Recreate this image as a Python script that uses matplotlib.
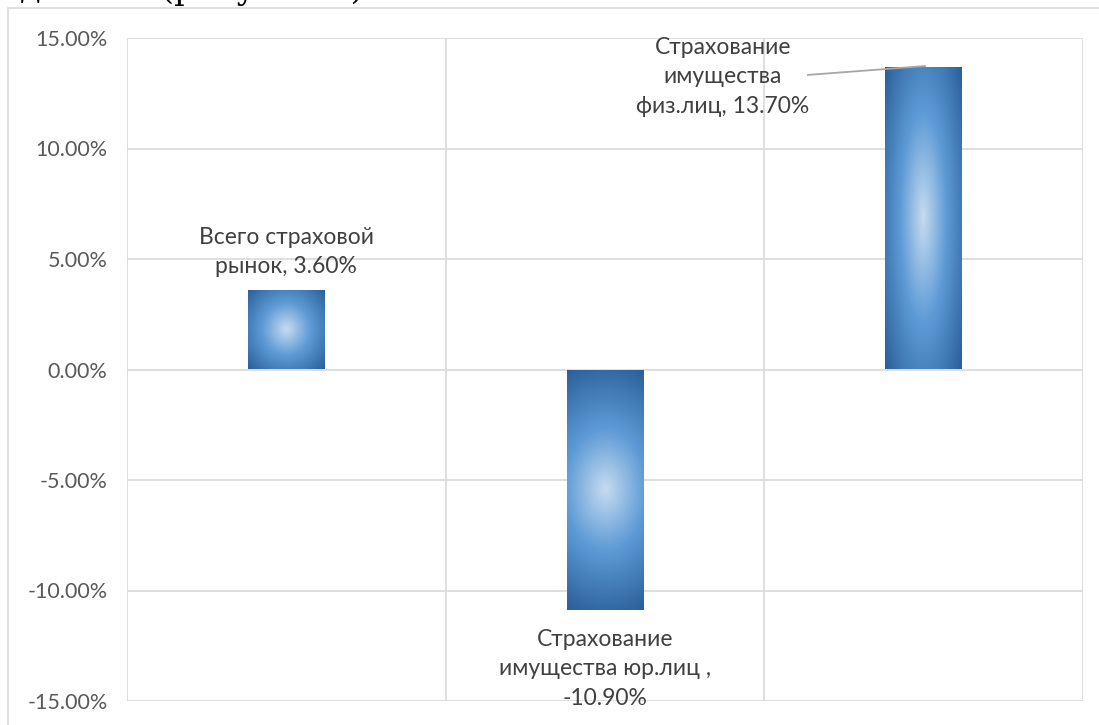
import matplotlib as mpl
mpl.use('Agg')
import matplotlib.pyplot as plt
import numpy as np
from matplotlib.patches import Rectangle

plt.rcParams['font.family'] = ['Lato', 'DejaVu Sans']

categories = ['Всего страховой\nрынок', 'Страхование\nимущества юр.лиц ', 'Страхование\nимущества\nфиз.лиц']
values = [3.6, -10.9, 13.7]
labels = ['Всего страховой\nрынок, 3.60%',
          'Страхование\nимущества юр.лиц ,\n-10.90%',
          'Страхование\nимущества\nфиз.лиц, 13.70%']
yticks = [-15, -10, -5, 0, 5, 10, 15]

W, H = 1099, 725
fig = plt.figure(figsize=(W / 100, H / 100), dpi=100)
ax = fig.add_axes([127 / W, 1 - 701 / H, (1083 - 127) / W, (701 - 38) / H])

# chart frame
fig.patches.append(Rectangle((8 / W, -0.1), 1.2, 1.1 - 8 / H, transform=fig.transFigure,
                             fill=False, edgecolor='#d9d9d9', lw=1.2))
# cut-off text from the page above
fig.text(0.018, 1 + 1 / H, 'данных (рисунок 7)', family='DejaVu Serif', fontsize=24,
         va='baseline', ha='left', color='black')

x = np.arange(len(values))
bars = ax.bar(x, values, width=0.24, color='none', zorder=3)

# radial gradient (circle in pixel space, radius = half diagonal)
yy, xx = np.mgrid[-1:1:400j, -1:1:400j]
c0 = np.array([0.78, 0.86, 0.94])
c1 = np.array([0.37, 0.61, 0.84])
c2 = np.array([0.16, 0.37, 0.60])
fig.canvas.draw()
for b in bars:
    x0, y0 = b.get_x(), b.get_y()
    w, h = b.get_width(), b.get_height()
    ext = b.get_window_extent()
    pw, ph = ext.width / 2, ext.height / 2
    r = np.sqrt((xx * pw) ** 2 + (yy * ph) ** 2) / np.hypot(pw, ph)
    r = np.clip(r, 0, 1)[..., None]
    img = np.where(r < 0.45, c0 + (c1 - c0) * (r / 0.45),
                   c1 + (c2 - c1) * ((r - 0.45) / 0.55))
    im = ax.imshow(img, extent=[x0, x0 + w, min(y0, y0 + h), max(y0, y0 + h)],
                   aspect='auto', zorder=3, interpolation='bilinear')
    im.set_clip_path(b)

ax.set_xlim(-0.5, len(values) - 0.5)
ax.set_ylim(-15, 15)
ax.set_yticks(yticks)
ax.set_yticklabels(['%.2f%%' % t for t in yticks], fontsize=15.5, color='#595959')
ax.set_xticks([0.5, 1.5])
ax.set_xticklabels([])
ax.tick_params(axis='both', length=0)
ax.tick_params(axis='y', pad=14)
ax.grid(True, color='#d9d9d9', lw=1.2, zorder=0)
for s in ax.spines.values():
    s.set_visible(False)
ax.axvline(-0.5, color='#d9d9d9', lw=1.2, zorder=1)
ax.axvline(2.5, color='#d9d9d9', lw=1.2, zorder=1)

tkw = dict(ha='center', va='center', fontsize=16.5, color='#404040', linespacing=1.5)
ax.text(0, 5.32, labels[0], **tkw)
ax.text(1, -13.55, labels[1], **tkw)
ax.text(1.37, 13.24, labels[2], **tkw, zorder=4)
ax.plot([1.637, 2.004], [13.33, 13.73], color='#a6a6a6', lw=1.3, zorder=4)

fig.savefig('out.png', dpi=100)
